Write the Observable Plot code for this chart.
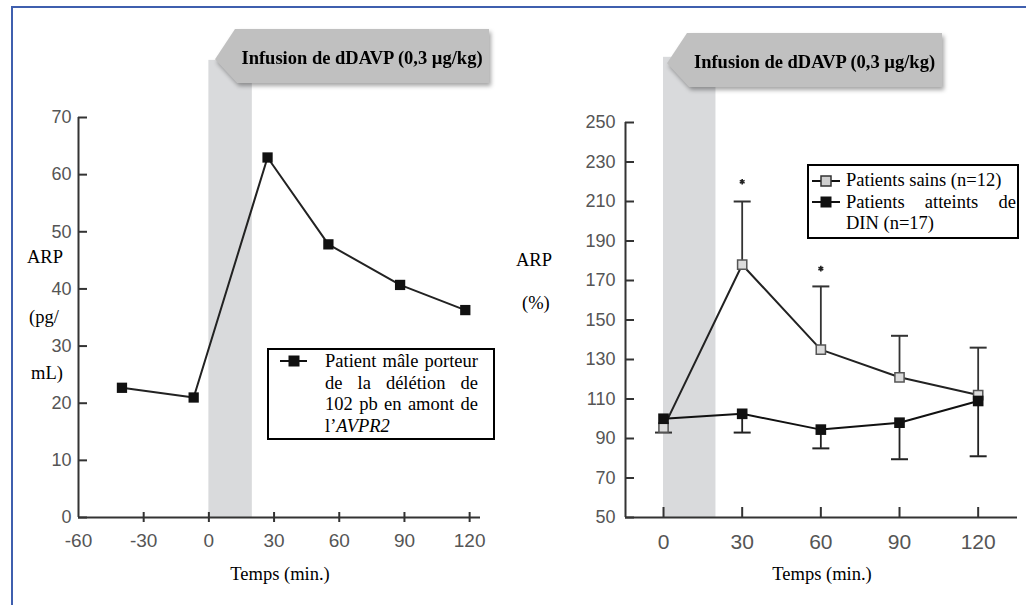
<!DOCTYPE html>
<html><head><meta charset="utf-8">
<script src="https://cdn.jsdelivr.net/npm/d3@7"></script>
<script src="https://cdn.jsdelivr.net/npm/@observablehq/plot@0.6"></script>
<style>
body{margin:0;background:#fff;}
#wrap{position:relative;width:1026px;height:605px;overflow:hidden;background:#fff;font-family:"Liberation Serif","Times New Roman",serif;color:#000;}
.frame{position:absolute;left:11px;top:6px;width:1100px;height:700px;border-top:2px solid #3f5fae;border-left:2px solid #3f5fae;}
.panel{position:absolute;top:0;}
.arrowWrap{position:absolute;filter:drop-shadow(2px 3px 2px rgba(0,0,0,0.35));}
.arrow{width:100%;height:100%;background:#c0c0c0;clip-path:polygon(0 56%,20px 0,100% 0,100% 100%,22px 100%);display:flex;align-items:center;justify-content:center;padding-left:20px;padding-top:4px;box-sizing:border-box;font-weight:bold;font-size:18.5px;white-space:nowrap;}
.lbl{position:absolute;font-size:18.5px;line-height:1;white-space:nowrap;}
.c{transform:translate(-50%,-50%);}
.legend{position:absolute;border:2px solid #000;background:#fff;box-sizing:border-box;font-size:18.5px;}
.legend .ln{height:21.6px;line-height:21.6px;white-space:nowrap;}
.legend .j{text-align:justify;text-align-last:justify;white-space:normal;}
.mk{position:absolute;}
</style>
</head><body>
<div id="wrap"><div class="frame"></div></div>
<script>
// ---------- data ----------
const leftTime = [-40, -7, 27, 55, 88, 118];
const leftARP  = [22.7, 21, 63, 47.8, 40.7, 36.3];
const leftXTicks = [-60, -30, 0, 30, 60, 90, 120];
const leftYTicks = [0, 10, 20, 30, 40, 50, 60, 70];

const rightTime = [0, 30, 60, 90, 120];
const sainsARP  = [95.5, 178, 135, 121, 112];
const sainsErr  = [93, 210, 167, 142, 136];
const dinARP    = [100, 102.5, 94.5, 98, 109];
const dinErr    = [null, 93, 85, 79.5, 81];
const starTime  = [30, 60];
const starARP   = [220, 176];
const rightXTicks = [0, 30, 60, 90, 120];
const rightYTicks = [50, 70, 90, 110, 130, 150, 170, 190, 210, 230, 250];

const infusion = [0, 20];          // minutes
const bandTopLeft = 80, bandTopRight = 283;

const arrowText = "Infusion de dDAVP (0,3 µg/kg)";
const xTitle = "Temps (min.)";
const leftLegendLines = ["Patient mâle porteur", "de la délétion de", "102 pb en amont de", "l’<i>AVPR2</i>"];
const rightLegendLines = ["Patients sains (n=12)", "Patients atteints de", "DIN (n=17)"];

// ---------- helpers ----------
const wrap = document.getElementById("wrap");
const tickFont = "Liberation Sans, Arial, sans-serif";
const cap = {draw(ctx){ ctx.moveTo(-8.5,0); ctx.lineTo(8.5,0); }};

function add(html){ wrap.insertAdjacentHTML("beforeend", html); }

// ---------- left plot ----------
const leftData = leftTime.map((t,i)=>({t, v:leftARP[i]}));
const L = {w:513, h:605, ml:78, mr:33, mt:117, mb:88};
const leftPlot = Plot.plot({
  width:L.w, height:L.h, marginLeft:L.ml, marginRight:L.mr, marginTop:L.mt, marginBottom:L.mb,
  x:{domain:[-60,125]}, y:{domain:[0,70]},
  style:{background:"transparent", overflow:"visible"},
  marks:[
    Plot.rect([{x1:infusion[0], x2:infusion[1], y1:0, y2:bandTopLeft}], {x1:"x1", x2:"x2", y1:"y1", y2:"y2", fill:"#d9dadc"}),
    Plot.ruleX([-60], {stroke:"#333", strokeWidth:2}),
    Plot.ruleY([0], {stroke:"#333", strokeWidth:2}),
    Plot.tickY(leftYTicks, {y:d=>d, insetRight:(L.w-L.ml-L.mr)-9, stroke:"#333", strokeWidth:2}),
    Plot.tickX(leftXTicks.slice(1), {x:d=>d, insetTop:(L.h-L.mt-L.mb)-5, insetBottom:-5, stroke:"#333", strokeWidth:2}),
    Plot.axisY(leftYTicks, {tickSize:0, tickPadding:7, fontSize:18, fontFamily:tickFont, color:"#555", label:null, tickFormat:d=>String(d)}),
    Plot.axisX(leftXTicks, {tickSize:0, tickPadding:16, fontSize:19, fontFamily:tickFont, color:"#555", label:null, tickFormat:d=>String(d)}),
    Plot.line(leftData, {x:"t", y:"v", stroke:"#222", strokeWidth:2}),
    Plot.dot(leftData, {x:"t", y:"v", symbol:"square", r:5.8, fill:"#111", stroke:"none"})
  ]
});
const lp = document.createElement("div"); lp.className="panel"; lp.style.left="0px"; lp.appendChild(leftPlot); wrap.appendChild(lp);

// ---------- right plot ----------
const sains = rightTime.map((t,i)=>({t, v:sainsARP[i], e:sainsErr[i]}));
const din = rightTime.map((t,i)=>({t, v:dinARP[i], e:dinErr[i]}));
const dinE = din.filter(d=>d.e!=null);
const stars = starTime.map((t,i)=>({t, v:starARP[i]}));
const R = {w:513, h:605, ml:112, mr:9, mt:122, mb:88};
const rightPlot = Plot.plot({
  width:R.w, height:R.h, marginLeft:R.ml, marginRight:R.mr, marginTop:R.mt, marginBottom:R.mb,
  x:{domain:[-14.5,135]}, y:{domain:[50,250]},
  style:{background:"transparent", overflow:"visible"},
  marks:[
    Plot.rect([{x1:infusion[0], x2:infusion[1], y1:50, y2:bandTopRight}], {x1:"x1", x2:"x2", y1:"y1", y2:"y2", fill:"#d9dadc"}),
    Plot.ruleX([-14.5], {stroke:"#333", strokeWidth:2}),
    Plot.ruleY([50], {stroke:"#333", strokeWidth:2}),
    Plot.tickY(rightYTicks, {y:d=>d, insetRight:(R.w-R.ml-R.mr)-9, stroke:"#333", strokeWidth:2}),
    Plot.tickX(rightXTicks, {x:d=>d, insetTop:(R.h-R.mt-R.mb)-10, stroke:"#333", strokeWidth:2}),
    Plot.axisY(rightYTicks, {tickSize:0, tickPadding:10, fontSize:18, fontFamily:tickFont, color:"#555", label:null, tickFormat:d=>String(d)}),
    Plot.axisX(rightXTicks, {tickSize:0, tickPadding:17, fontSize:21, fontFamily:tickFont, color:"#555", label:null, tickFormat:d=>String(d)}),
    Plot.ruleX(sains, {x:"t", y1:"v", y2:"e", stroke:"#333", strokeWidth:1.8}),
    Plot.dot(sains, {x:"t", y:"e", symbol:cap, stroke:"#333", strokeWidth:2, fill:"none"}),
    Plot.ruleX(dinE, {x:"t", y1:"v", y2:"e", stroke:"#222", strokeWidth:1.8}),
    Plot.dot(dinE, {x:"t", y:"e", symbol:cap, stroke:"#222", strokeWidth:2, fill:"none"}),
    Plot.line(sains, {x:"t", y:"v", stroke:"#222", strokeWidth:2}),
    Plot.line(din, {x:"t", y:"v", stroke:"#111", strokeWidth:2}),
    Plot.dot(sains, {x:"t", y:"v", symbol:"square", r:5.2, fill:"#dcdcdc", stroke:"#555", strokeWidth:1.5}),
    Plot.dot(din, {x:"t", y:"v", symbol:"square", r:6, fill:"#111", stroke:"none"}),
    Plot.dot(stars, {x:"t", y:"v", symbol:"asterisk", r:2.6, stroke:"#222", strokeWidth:1.6})
  ]
});
const rp = document.createElement("div"); rp.className="panel"; rp.style.left="513px"; rp.appendChild(rightPlot); wrap.appendChild(rp);

// ---------- overlays ----------
add(`<div class="arrowWrap" style="left:215px;top:29px;width:274px;height:54px"><div class="arrow">${arrowText}</div></div>`);
add(`<div class="arrowWrap" style="left:667px;top:33px;width:275px;height:54px"><div class="arrow">${arrowText}</div></div>`);

add(`<div class="lbl" style="left:27px;top:248px">ARP</div>`);
add(`<div class="lbl" style="left:29px;top:308px">(pg/</div>`);
add(`<div class="lbl" style="left:31px;top:364px">mL)</div>`);
add(`<div class="lbl" style="left:516px;top:251px">ARP</div>`);
add(`<div class="lbl" style="left:522px;top:294px">(%)</div>`);

add(`<div class="lbl c" style="left:280px;top:574px">${xTitle}</div>`);
add(`<div class="lbl c" style="left:822px;top:574px">${xTitle}</div>`);

// left legend
add(`<div class="legend" style="left:267px;top:348px;width:228px;height:92px;padding:1px 0 0 56px">
  <div style="width:153px">${leftLegendLines.map((s,i)=>`<div class="ln ${i<3?'j':''}">${s}</div>`).join("")}</div></div>`);
add(`<svg class="mk" style="left:278px;top:354px" width="32" height="14"><line x1="2" y1="7" x2="29" y2="7" stroke="#111" stroke-width="2"/><rect x="10.5" y="1.5" width="11" height="11" fill="#111"/></svg>`);

// right legend
add(`<div class="legend" style="left:807px;top:164px;width:212px;height:75px;padding:4px 0 0 37px">
  <div style="width:170px">${rightLegendLines.map((s,i)=>`<div class="ln ${i===1?'j':''}">${s}</div>`).join("")}</div></div>`);
add(`<svg class="mk" style="left:810px;top:174px" width="34" height="36">
  <line x1="2" y1="7" x2="30" y2="7" stroke="#111" stroke-width="2"/><rect x="11" y="2" width="10" height="10" fill="#cfcfcf" stroke="#333" stroke-width="1.5"/>
  <line x1="2" y1="28" x2="30" y2="28" stroke="#111" stroke-width="2"/><rect x="10.5" y="22.5" width="11" height="11" fill="#111"/></svg>`);
</script>
</body></html>
